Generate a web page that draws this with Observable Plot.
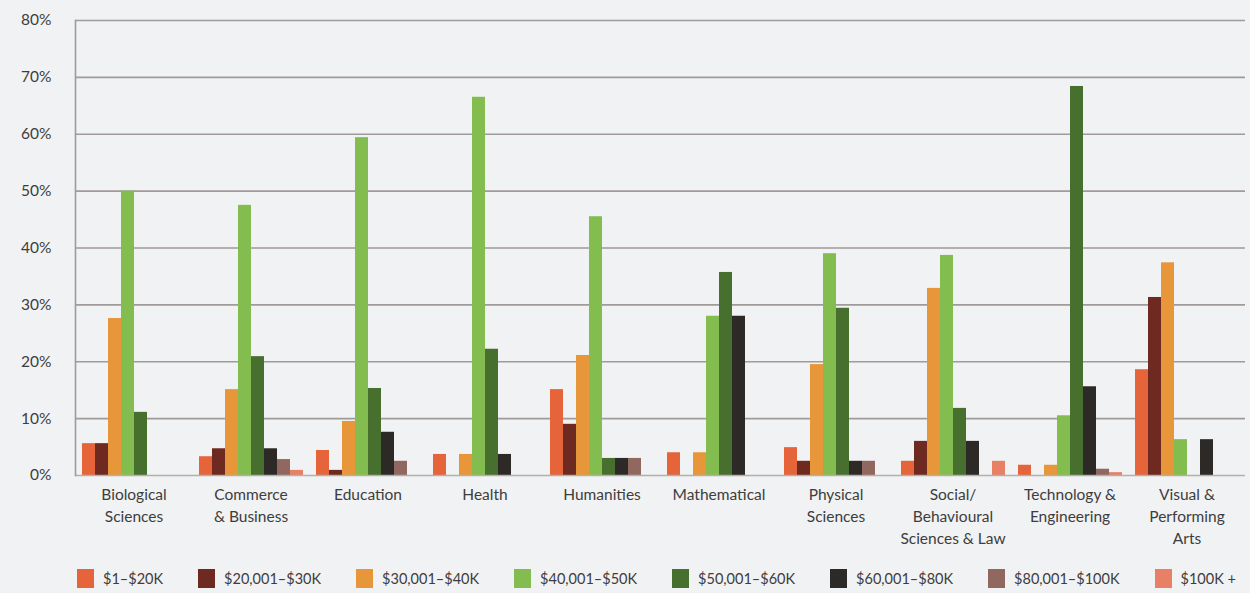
<!DOCTYPE html>
<html>
<head>
<meta charset="utf-8">
<script src="https://cdn.jsdelivr.net/npm/d3@7"></script>
<script src="https://cdn.jsdelivr.net/npm/@observablehq/plot@0.6"></script>
<style>
  html, body { margin: 0; padding: 0; background: #f1f2f4; }
  body { width: 1250px; height: 593px; overflow: hidden; font-family: Lato, "Open Sans", sans-serif; color: #3d3d3d; }
  #legend { display: flex; flex-wrap: nowrap; align-items: center; padding-left: 77px; height: 36px; font-size: 14.5px; white-space: nowrap; }
  #legend .item { display: flex; flex-shrink: 0; align-items: center; margin-right: 35px; }
  #legend .sw { width: 17px; height: 19px; margin-right: 9px; flex-shrink: 0; }
</style>
</head>
<body>
<div id="chart"></div>
<div id="legend"></div>
<script>
const categories = ["Biological Sciences", "Commerce & Business", "Education", "Health", "Humanities", "Mathematical", "Physical Sciences", "Social/Behavioural Sciences & Law", "Technology & Engineering", "Visual & Performing Arts"];
const categoryLabels = ["Biological\nSciences", "Commerce\n& Business", "Education", "Health", "Humanities", "Mathematical", "Physical\nSciences", "Social/\nBehavioural\nSciences & Law", "Technology &\nEngineering", "Visual &\nPerforming\nArts"];
const series = ["$1–$20K", "$20,001–$30K", "$30,001–$40K", "$40,001–$50K", "$50,001–$60K", "$60,001–$80K", "$80,001–$100K", "$100K +"];
const colors = ["#e5643a", "#6e2920", "#e8963a", "#83bd4f", "#47702f", "#2d2926", "#916860", "#e88066"];
const yTicks = [0, 10, 20, 30, 40, 50, 60, 70, 80];

const v1to20    = [5.6, 3.3, 4.4, 3.7, 15.1, 4.0, 4.9, 2.5, 1.8, 18.6];
const v20to30   = [5.6, 4.7, 0.9, 0, 9.0, 0, 2.5, 6.0, 0, 31.3];
const v30to40   = [27.6, 15.1, 9.5, 3.7, 21.1, 4.0, 19.5, 32.9, 1.8, 37.4];
const v40to50   = [50.0, 47.5, 59.4, 66.5, 45.5, 28.0, 39.0, 38.7, 10.5, 6.3];
const v50to60   = [11.1, 20.9, 15.3, 22.2, 3.0, 35.7, 29.4, 11.8, 68.4, 0];
const v60to80   = [0, 4.7, 7.6, 3.7, 3.0, 28.0, 2.5, 6.0, 15.6, 6.3];
const v80to100  = [0, 2.8, 2.5, 0, 3.0, 0, 2.5, 0, 1.1, 0];
const v100plus  = [0, 0.9, 0, 0, 0, 0, 0, 2.5, 0.5, 0];

const seriesValues = [v1to20, v20to30, v30to40, v40to50, v50to60, v60to80, v80to100, v100plus];
const rows = [];
series.forEach((s, si) => {
  categories.forEach((c, ci) => {
    const v = seriesValues[si][ci];
    if (v > 0) rows.push({category: c, series: s, value: v});
  });
});

const gridColor = "#a09a98";

const chart = Plot.plot({
  width: 1250,
  height: 560,
  marginLeft: 75,
  marginRight: 5,
  marginTop: 20,
  marginBottom: 85,
  style: {background: "transparent", fontFamily: "Lato, 'Open Sans', sans-serif", fontSize: "15px", color: "#3d3d3d"},
  fx: {domain: categories, padding: 0, label: null},
  x: {domain: series, paddingInner: 0, paddingOuter: 0.3, axis: null},
  y: {domain: [0, 80], label: null},
  color: {domain: series, range: colors},
  marks: [
    Plot.gridY(yTicks.filter(d => d > 0), {stroke: gridColor, strokeOpacity: 1, strokeWidth: 1.6}),
    Plot.barY(rows, {fx: "category", x: "series", y: "value", fill: "series"}),
    Plot.ruleY([0], {stroke: "#b3afad", strokeWidth: 1.6}),
    Plot.frame({anchor: "left", facetAnchor: "left", stroke: gridColor, strokeWidth: 1.6}),
    Plot.axisY(yTicks, {tickFormat: d => d + "%", tickSize: 0, tickPadding: 24, fontSize: 15.5, label: null}),
    Plot.axisFx({anchor: "bottom", tickFormat: d => categoryLabels[categories.indexOf(d)], tickSize: 0, tickPadding: 9, lineHeight: 1.42, fontSize: 15.5, label: null})
  ]
});
document.getElementById("chart").appendChild(chart);

const legend = document.getElementById("legend");
series.forEach((s, i) => {
  const item = document.createElement("div");
  item.className = "item";
  const sw = document.createElement("div");
  sw.className = "sw";
  sw.style.background = colors[i];
  const t = document.createElement("span");
  t.textContent = s;
  item.appendChild(sw);
  item.appendChild(t);
  legend.appendChild(item);
});
</script>
</body>
</html>
